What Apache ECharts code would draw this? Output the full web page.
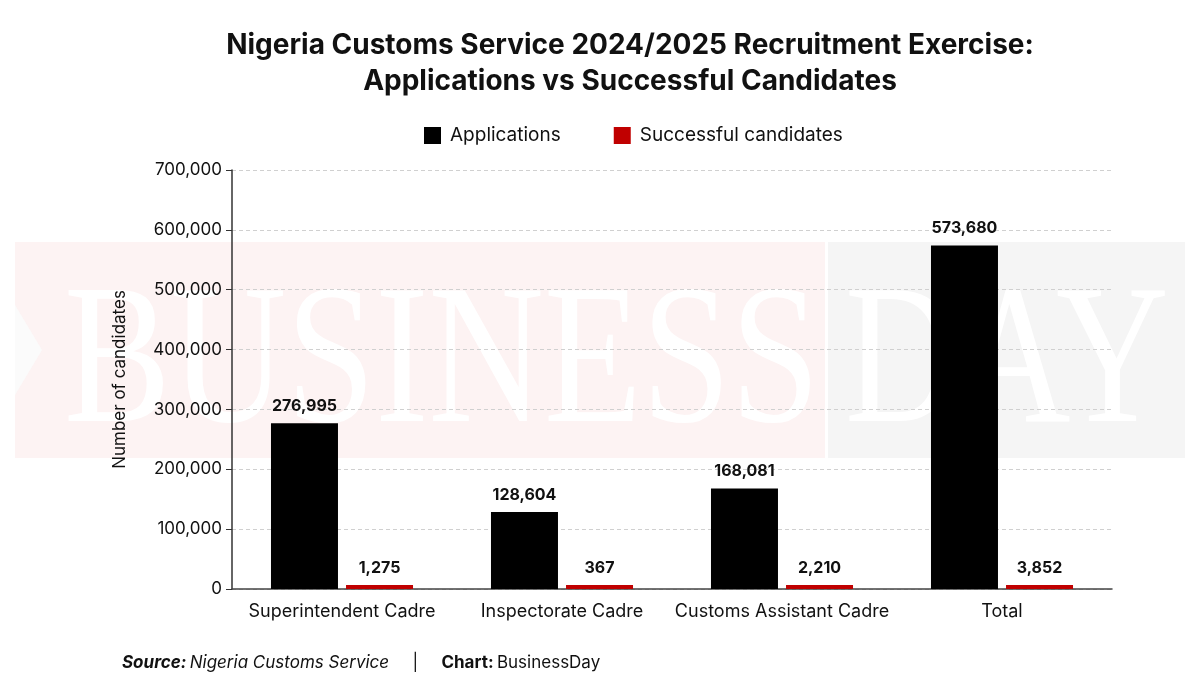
<!DOCTYPE html>
<html>
<head>
<meta charset="utf-8">
<script src="https://cdn.jsdelivr.net/npm/echarts@6/dist/echarts.min.js"></script>
<style>
  html, body { margin: 0; padding: 0; background: #fff; }
  #main { width: 1200px; height: 700px; }
</style>
</head>
<body>
<div id="main"></div>
<script>
var categories = ['Superintendent Cadre', 'Inspectorate Cadre', 'Customs Assistant Cadre', 'Total'];
var applications = [276995, 128604, 168081, 573680];
var successful = [1275, 367, 2210, 3852];
var yTicks = [0, 100000, 200000, 300000, 400000, 500000, 600000, 700000];

var FONT = 'Inter, Roboto, sans-serif';
var RED = '#c00000';

function fmt(v) {
  return v.toLocaleString('en-US');
}

var myChart = echarts.init(document.getElementById('main'));

myChart.setOption({
  backgroundColor: '#fff',
  animation: false,
  textStyle: { fontFamily: FONT, color: '#111' },
  // faint BusinessDay watermark behind the plot
  graphic: [
    { type: 'rect', z: -10, shape: { x: 15, y: 242, width: 810, height: 216 }, style: { fill: '#fdf3f3' } },
    { type: 'rect', z: -10, shape: { x: 828, y: 242, width: 357, height: 216 }, style: { fill: '#f5f5f5' } },
    { type: 'polygon', z: -9, shape: { points: [[15, 305], [42, 350], [15, 395]] }, style: { fill: '#fbfbfb' } },
    { type: 'text', z: -9, x: 64, y: 268, scaleX: 0.8,
      style: { text: 'BUSINESS', font: '400 200px "Liberation Serif", serif', fill: '#fff' } },
    { type: 'text', z: -9, x: 845, y: 268, scaleX: 0.78,
      style: { text: 'DAY', font: '400 200px "Liberation Serif", serif', fill: '#fff' } },
    {
      type: 'text', left: 122, top: 654,
      style: {
        text: '{b|Source:} {i|Nigeria Customs Service}       {n||}       {b2|Chart:} {n|BusinessDay}',
        rich: {
          b: { font: 'italic 700 17px ' + FONT, fill: '#111' },
          i: { font: 'italic 400 17px ' + FONT, fill: '#111' },
          b2: { font: '700 17px ' + FONT, fill: '#111' },
          n: { font: '400 17px ' + FONT, fill: '#111' }
        }
      }
    }
  ],
  title: {
    text: 'Nigeria Customs Service 2024/2025 Recruitment Exercise:\nApplications vs Successful Candidates',
    left: 625,
    textAlign: 'center',
    top: 23,
    textStyle: { fontFamily: FONT, fontSize: 28, fontWeight: 700, color: '#111', lineHeight: 36 }
  },
  legend: {
    top: 121,
    left: 419,
    itemWidth: 17,
    itemHeight: 17,
    itemGap: 53,
    icon: 'rect',
    textStyle: { fontFamily: FONT, fontSize: 19, color: '#111', padding: [0, 0, 0, 4] },
    data: ['Applications', 'Successful candidates']
  },
  grid: { left: 232, right: 88, top: 170, bottom: 111, containLabel: false },
  xAxis: {
    type: 'category',
    data: categories,
    axisLine: { lineStyle: { color: '#444', width: 1.5 } },
    axisTick: { show: false },
    axisLabel: { interval: 0, fontFamily: FONT, fontSize: 18, color: '#111', margin: 14 }
  },
  yAxis: {
    type: 'value',
    min: yTicks[0],
    max: yTicks[yTicks.length - 1],
    interval: 100000,
    name: 'Number of candidates',
    nameLocation: 'middle',
    nameGap: 104,
    nameTextStyle: { fontFamily: FONT, fontSize: 17, color: '#111' },
    axisLine: { show: true, lineStyle: { color: '#333', width: 1.5 } },
    axisTick: { show: true, length: 6, lineStyle: { color: '#333' } },
    axisLabel: {
      fontFamily: FONT, fontSize: 17, color: '#111', margin: 10,
      formatter: function (v) { return fmt(v); }
    },
    splitLine: { lineStyle: { color: '#d0d0d0', type: [4, 3] } }
  },
  series: [{
    name: 'Applications',
    type: 'bar',
    data: applications,
    barWidth: 67,
    barGap: '12%',
    itemStyle: { color: '#000' },
    label: {
      show: true, position: 'top', distance: 9,
      fontFamily: FONT, fontSize: 16, fontWeight: 700, color: '#111',
      formatter: function (p) { return fmt(p.value); }
    }
  }, {
    name: 'Successful candidates',
    type: 'bar',
    data: successful,
    barWidth: 67,
    barMinHeight: 4,
    itemStyle: { color: RED },
    label: {
      show: true, position: 'top', distance: 9,
      fontFamily: FONT, fontSize: 16, fontWeight: 700, color: '#111',
      formatter: function (p) { return fmt(p.value); }
    }
  }]
});
</script>
</body>
</html>
